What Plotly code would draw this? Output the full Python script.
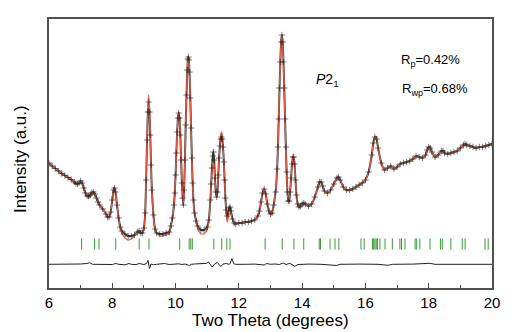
import plotly.graph_objects as go

# ---- observed profile (two-theta, intensity a.u.) ----
two_theta = [6.00, 6.10, 6.20, 6.30, 6.40, 6.50, 6.60, 6.70, 6.80, 6.85, 6.90, 6.95, 7.00, 7.05, 7.10, 7.15,
             7.20, 7.25, 7.30, 7.35, 7.40, 7.45, 7.50, 7.55, 7.60, 7.70, 7.80, 7.85, 7.90, 7.95, 8.00, 8.04,
             8.07, 8.10, 8.15, 8.20, 8.25, 8.30, 8.40, 8.50, 8.60, 8.70, 8.80, 8.85, 8.90, 8.95, 9.00, 9.04,
             9.07, 9.10, 9.125, 9.15, 9.175, 9.20, 9.225, 9.25, 9.30, 9.35, 9.40, 9.50, 9.60, 9.70, 9.80, 9.85,
             9.90, 9.95, 9.975, 10.00, 10.025, 10.05, 10.075, 10.10, 10.125, 10.15, 10.175, 10.20, 10.225, 10.245,
             10.27, 10.295, 10.32, 10.345, 10.37, 10.39, 10.405, 10.42, 10.44, 10.465, 10.49, 10.515, 10.54, 10.565,
             10.60, 10.65, 10.70, 10.80, 10.90, 11.00, 11.05, 11.10, 11.125, 11.15, 11.175, 11.195, 11.22, 11.245,
             11.27, 11.30, 11.325, 11.35, 11.375, 11.40, 11.425, 11.45, 11.475, 11.50, 11.525, 11.55, 11.575, 11.60,
             11.63, 11.66, 11.69, 11.72, 11.75, 11.80, 11.85, 11.90, 12.00, 12.10, 12.20, 12.30, 12.40, 12.50,
             12.60, 12.65, 12.70, 12.75, 12.80, 12.85, 12.90, 12.95, 13.00, 13.05, 13.10, 13.16, 13.21, 13.235,
             13.26, 13.285, 13.31, 13.335, 13.36, 13.385, 13.41, 13.435, 13.46, 13.485, 13.51, 13.535, 13.56, 13.59,
             13.62, 13.65, 13.68, 13.71, 13.73, 13.76, 13.79, 13.82, 13.86, 13.90, 13.95, 14.00, 14.05, 14.10,
             14.20, 14.30, 14.40, 14.50, 14.55, 14.60, 14.65, 14.70, 14.80, 14.90, 15.00, 15.10, 15.15, 15.20,
             15.30, 15.40, 15.50, 15.60, 15.70, 15.80, 15.90, 16.00, 16.10, 16.20, 16.25, 16.30, 16.35, 16.40,
             16.50, 16.60, 16.70, 16.80, 16.90, 17.00, 17.10, 17.20, 17.30, 17.40, 17.50, 17.60, 17.70, 17.80,
             17.90, 17.95, 18.00, 18.05, 18.10, 18.20, 18.30, 18.40, 18.45, 18.50, 18.60, 18.70, 18.80, 18.90,
             19.00, 19.10, 19.15, 19.20, 19.30, 19.40, 19.50, 19.60, 19.70, 19.80, 19.90, 20.00]

observed = [125, 122, 119.5, 117, 114.5, 112.5, 110.5, 108.5, 106, 104.5, 104, 105, 107, 105, 100, 95,
            92, 92, 93, 95, 96, 94, 90, 86, 83, 79, 74, 71, 71, 76, 88, 98,
            100, 96, 83, 70, 61, 57, 54, 52, 52, 53, 56, 57, 55, 55, 60, 75,
            108, 148, 176, 186, 176, 153, 123, 98, 73, 59, 55, 54, 54, 55, 56, 62,
            70, 83, 95, 113, 135, 156, 170, 175, 170, 153, 128, 105, 90, 83,
            98, 128, 163, 193, 218, 229, 231, 228, 216, 190, 160, 130, 105, 88,
            75, 67, 62, 58, 58, 61, 68, 88, 104, 120, 132, 136, 128, 110,
            96, 91, 96, 113, 130, 142, 149, 151, 149, 141, 126, 108, 90, 78,
            72, 74, 80, 81, 77, 69, 65, 64, 65, 65, 66, 66, 67, 68,
            72, 77, 86, 95, 99, 94, 84, 77, 74, 75, 83, 96, 119, 141,
            169, 200, 226, 246, 253, 246, 226, 200, 169, 141, 116, 96, 87, 87,
            96, 110, 124, 131, 131, 124, 108, 93, 84, 81, 82, 84, 85, 84,
            82, 84, 91, 101, 106, 106, 102, 97, 95, 98, 104, 110, 111, 108,
            101, 98, 98, 99, 101, 103, 105, 108, 116, 133, 145, 151, 149, 140,
            125, 118, 120, 122, 119, 121, 124, 125, 126, 127, 129, 132, 131, 130,
            133, 138, 141, 140, 136, 131, 133, 137, 137, 135, 134, 135, 136, 137,
            140, 143, 144, 143, 142, 141, 140, 141, 141, 142, 143, 144]

# ---- calculated profile: deviations from observed where they visibly differ ----
calc_dev_theta = [7.25, 7.30, 8.30, 8.40, 8.50, 8.60, 8.70, 9.10, 9.125, 9.15, 9.175, 9.20,
                  9.50, 9.60, 9.70, 9.80, 10.70, 10.80, 10.90, 11.00, 11.15, 11.175, 11.195, 11.22,
                  11.245, 11.425, 11.45, 11.475, 11.60, 11.63, 11.66, 11.69, 11.72, 11.75]
calc_dev_value = [-2, -2, -2, -4, -4, -3, -1, 2, 5, 7, 5, 2,
                  -2, -2, -2, -2, -3, -4, -4, -3, -5, -8, -10, -8,
                  -4, 4, 5, 5, -3, -6, -5, -3, -4, -2]

# ---- difference curve (obs - calc), as read ----
diff_theta = [6.0, 6.5, 7.0, 7.2, 7.28, 7.38, 7.7, 8.0, 8.11, 8.2, 8.4, 8.53, 8.6, 8.75, 8.85, 9.0,
              9.08, 9.13, 9.16, 9.18, 9.22, 9.3, 9.4, 9.65, 9.8, 10.0, 10.1, 10.2, 10.3, 10.43, 10.5,
              10.6, 10.9, 10.98, 11.04, 11.1, 11.16, 11.24, 11.32, 11.43, 11.5, 11.6, 11.68, 11.72,
              11.78, 11.84, 11.9, 12.2, 12.5, 12.8, 12.88, 13.0, 13.14, 13.28, 13.40, 13.49, 13.61,
              13.77, 13.87, 14.2, 14.6, 15.09, 15.2, 15.8, 16.4, 16.72, 16.85, 17.5, 18.04, 18.2,
              19.0, 20.0]
diff_value = [0, -0.2, 0.3, 0.8, 1.6, 0, 0.2, -0.2, 0.8, 0, -0.5, 0.8, 0, -0.3, 0.8, -0.2,
              0.8, 4.0, -1.7, -4.2, 0.3, -0.5, 0, 0.8, -0.2, 0, 0.5, -0.2, 0.3, -1.2, 0,
              0.3, 0.3, 1.0, 2.3, 0, -2.7, 0.5, 1.8, -2.2, 0.2, 0.8, 0, 0.5,
              5.6, 0.5, 0, 0, 0.2, -0.7, 0.8, 0, 0.3, -0.2, 1.3, -0.2, 1.0,
              -2.0, -0.2, 0.2, 0, -1.2, 0, 0.2, 0, -1.0, 0, 0.2, 1.0, 0,
              0.2, 0]

# ---- Bragg reflection positions ----
bragg_positions = [7.03, 7.44, 7.58, 8.11, 8.85, 9.16, 10.13, 10.43, 10.48, 10.53, 11.21, 11.46, 11.62,
                   11.72, 12.83, 13.37, 13.74, 14.05, 14.54, 14.58, 14.88, 15.04, 15.16, 15.86, 15.96,
                   16.22, 16.26, 16.30, 16.34, 16.38, 16.46, 16.62, 16.85, 17.09, 17.14, 17.25, 17.57,
                   17.62, 17.72, 18.04, 18.37, 18.43, 18.70, 19.06, 19.15, 19.78, 19.88]

x_ticks = [6, 8, 10, 12, 14, 16, 18, 20]

# derived series
dev_map = dict(zip(calc_dev_theta, calc_dev_value))
calculated = [o + dev_map.get(t, 0) for t, o in zip(two_theta, observed)]
DIFF_OFFSET = 23.7
TICK_LEVEL = 44
diff_plot = [d + DIFF_OFFSET for d in diff_value]

fig = go.Figure()

# observed: dark band under the fit
fig.add_trace(go.Scatter(
    x=two_theta, y=observed, mode="lines",
    line=dict(color="rgba(10,10,10,0.75)", width=2.0, shape="spline", smoothing=0.4),
    showlegend=False, hoverinfo="skip"))

# calculated (red line)
fig.add_trace(go.Scatter(
    x=two_theta, y=calculated, mode="lines",
    line=dict(color="rgba(240,90,65,0.95)", width=1.3, shape="spline", smoothing=0.4),
    showlegend=False))

# observed: cross markers
fig.add_trace(go.Scatter(
    x=two_theta, y=observed, mode="markers",
    marker=dict(symbol="cross-thin", size=4.5, line=dict(color="rgba(30,30,30,0.65)", width=0.9)),
    showlegend=False))

# difference
fig.add_trace(go.Scatter(
    x=diff_theta, y=diff_plot, mode="lines",
    line=dict(color="#222222", width=1),
    showlegend=False))

# Bragg ticks
fig.add_trace(go.Scatter(
    x=bragg_positions, y=[TICK_LEVEL] * len(bragg_positions), mode="markers",
    marker=dict(symbol="line-ns", size=8, line=dict(color="rgba(20,140,20,0.85)", width=1)),
    showlegend=False))

font_fam = "Liberation Sans, Arial, sans-serif"
W, H = 515, 332
L, R, T, B = 49, 23, 19, 44
pw, ph = W - L - R, H - T - B

def px(xp):
    return (xp - L) / pw

def py(yp):
    return (H - B - yp) / ph

fig.update_layout(
    width=W, height=H,
    margin=dict(l=L, r=R, t=T, b=B),
    paper_bgcolor="white", plot_bgcolor="white",
    font=dict(family=font_fam, color="black"),
    xaxis=dict(range=[6, 20], tickvals=x_ticks, ticks="inside", ticklen=5, tickwidth=1.2,
               tickcolor="#444", showline=True, linecolor="#505050", linewidth=1.6, mirror=True,
               showgrid=False, zeroline=False, tickfont=dict(size=15, family=font_fam),
               minor=dict(dtick=1, ticks="inside", ticklen=3, tickcolor="#444", tickwidth=1.2)),
    yaxis=dict(range=[0, 269], showticklabels=False, ticks="", showline=True, linecolor="#505050",
               linewidth=1.6, mirror=True, showgrid=False, zeroline=False),
    annotations=[
        dict(text="Two Theta (degrees)", xref="paper", yref="paper", x=px(270), y=py(320),
             xanchor="center", yanchor="middle", showarrow=False, font=dict(size=17)),
        dict(text="Intensity (a.u.)", xref="paper", yref="paper", x=px(20), y=py(159),
             xanchor="center", yanchor="middle", textangle=-90, showarrow=False, font=dict(size=17)),
        dict(text="<i>P</i>2<sub>1</sub>", xref="paper", yref="paper", x=px(314), y=py(80),
             xanchor="left", yanchor="middle", showarrow=False, font=dict(size=14)),
        dict(text="R<sub>p</sub>=0.42%", xref="paper", yref="paper", x=px(399), y=py(60),
             xanchor="left", yanchor="middle", showarrow=False, font=dict(size=13)),
        dict(text="R<sub>wp</sub>=0.68%", xref="paper", yref="paper", x=px(400), y=py(90),
             xanchor="left", yanchor="middle", showarrow=False, font=dict(size=13)),
    ],
)

fig.write_html("out.html")
